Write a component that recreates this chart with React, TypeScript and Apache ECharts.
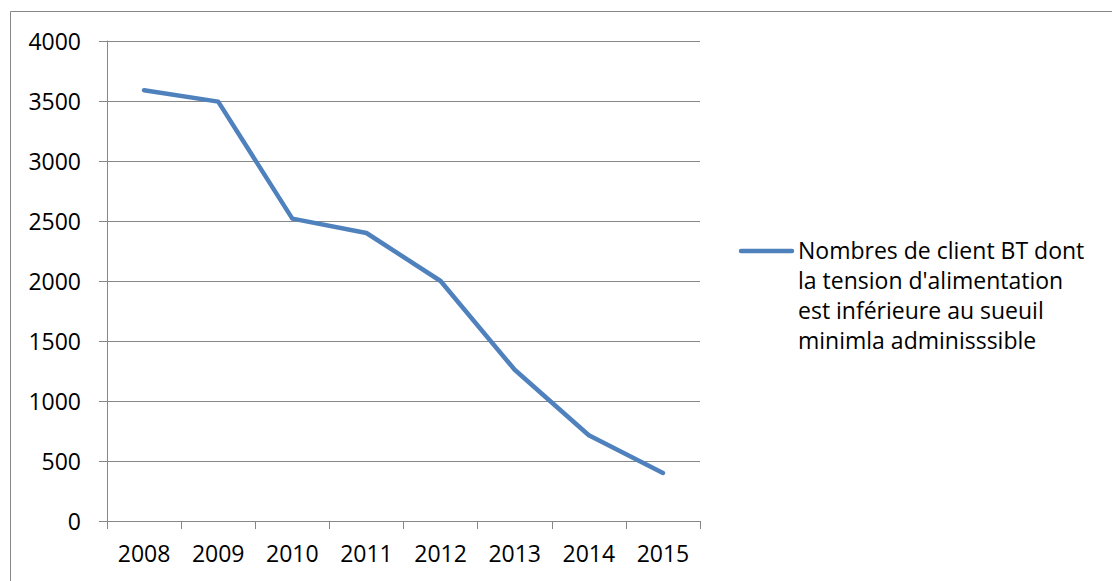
import React, { useEffect, useRef } from "react";
import * as echarts from "echarts";

const categories = ["2008", "2009", "2010", "2011", "2012", "2013", "2014", "2015"];
const values = [3590, 3495, 2520, 2400, 2000, 1260, 715, 400];
const seriesName = "Nombres de client BT dont\nla tension d'alimentation\nest inférieure au sueuil\nminimla adminisssible";

const FONT = "'Open Sans', sans-serif";
const GRAY = "#878787";
const BLUE = "#4F81BD";

export default function App() {
  const ref = useRef<HTMLDivElement>(null);
  useEffect(() => {
    if (!ref.current) return;
    const chart = echarts.init(ref.current, undefined, { renderer: "svg" });
    chart.setOption({
      animation: false,
      backgroundColor: "#ffffff",
      grid: { left: 107, top: 41, width: 593, height: 480, containLabel: false },
      xAxis: {
        type: "category",
        data: categories,
        boundaryGap: true,
        axisLine: { show: true, lineStyle: { color: GRAY, width: 1 } },
        axisTick: { show: true, length: 8, lineStyle: { color: GRAY } },
        axisLabel: { color: "#000", fontFamily: FONT, fontSize: 23, margin: 20 },
        splitLine: { show: false },
      },
      yAxis: {
        type: "value",
        min: 0,
        max: 4000,
        interval: 500,
        axisLine: { show: true, lineStyle: { color: GRAY, width: 1 } },
        axisTick: { show: true, length: 8, lineStyle: { color: GRAY } },
        axisLabel: {
          color: "#000",
          fontFamily: FONT,
          fontSize: 23,
          margin: 26,
          formatter: (v: number) => String(v),
        },
        splitLine: { show: true, lineStyle: { color: GRAY, width: 1 } },
      },
      series: [
        {
          type: "line",
          name: seriesName,
          data: values,
          symbol: "none",
          lineStyle: { color: BLUE, width: 4.5, cap: "round", join: "round" },
        },
      ],
      graphic: [
        {
          type: "rect",
          shape: { x: 10.5, y: 11.5, width: 1200, height: 700 },
          style: { fill: "none", stroke: GRAY, lineWidth: 1 },
          silent: true,
        },
        {
          type: "line",
          shape: { x1: 741, y1: 251, x2: 792, y2: 251 },
          style: { stroke: BLUE, lineWidth: 4.5, lineCap: "round" },
        },
        {
          type: "text",
          x: 798,
          y: 235,
          style: {
            text: seriesName,
            fontFamily: FONT,
            fontSize: 23,
            lineHeight: 30,
            fill: "#000",
            textVerticalAlign: "top",
          },
        },
      ],
    });
    return () => chart.dispose();
  }, []);
  return (
    <div
      ref={ref}
      style={{ position: "absolute", left: 0, top: 0, width: 1112, height: 581 }}
    />
  );
}
